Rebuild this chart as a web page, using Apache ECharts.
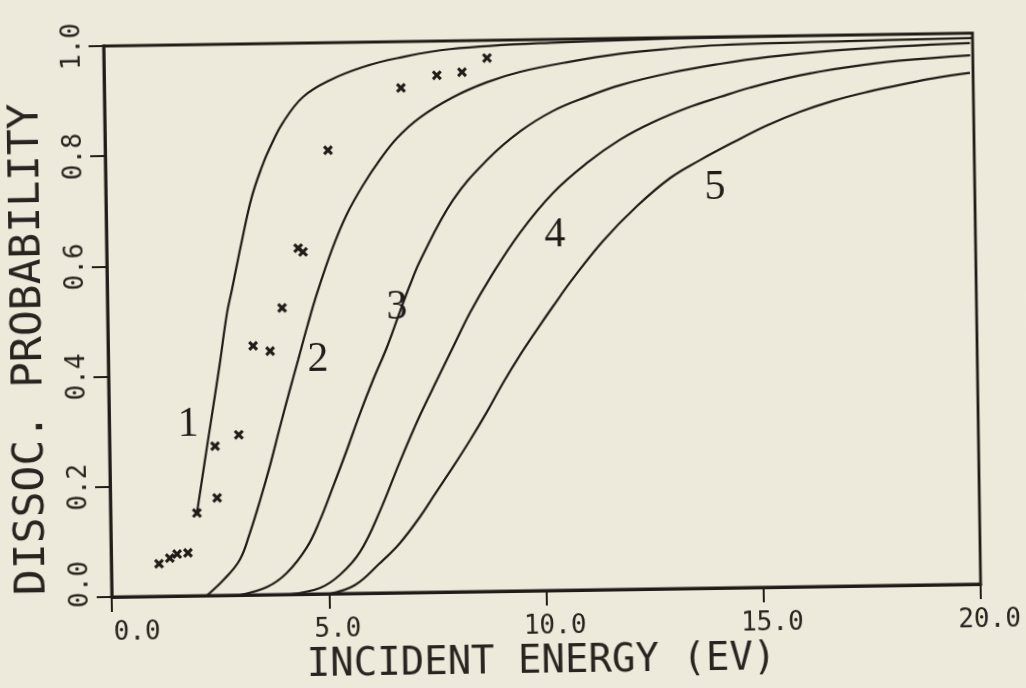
<!DOCTYPE html>
<html>
<head>
<meta charset="utf-8">
<script src="https://cdn.jsdelivr.net/npm/echarts@6/dist/echarts.min.js"></script>
<style>
  html, body { margin: 0; padding: 0; background: #eeeadb; overflow: hidden; width: 1026px; height: 688px; }
  #chart { position: absolute; left: 0; top: 0; width: 1026px; height: 688px; transform: rotate(-0.85deg); }
</style>
</head>
<body>
<div id="chart"></div>
<script>
// ---- data ----
const xTickLabels = ['0.0', '5.0', '10.0', '15.0', '20.0'];
const yTickLabels = ['0.0', '0.2', '0.4', '0.6', '0.8', '1.0'];

const curve1 = [[1.99,0.150],[2.27,0.282],[2.40,0.342],[2.57,0.422],[2.75,0.512],[2.87,0.554],[3.12,0.644],[3.36,0.722],[3.60,0.776],[3.80,0.812],[4.10,0.856],[4.57,0.902],[5.20,0.932],[5.97,0.955],[6.75,0.970],[7.97,0.985],[10.3,0.994],[14.0,0.999],[20.0,1.0]];
const curve2 = [[2.19,0],[2.58,0.028],[2.96,0.064],[3.20,0.112],[3.45,0.172],[3.68,0.232],[3.93,0.304],[4.17,0.371],[4.37,0.425],[4.59,0.485],[4.83,0.546],[5.21,0.629],[5.54,0.688],[5.92,0.740],[6.32,0.786],[6.72,0.825],[7.26,0.862],[8.03,0.898],[8.81,0.924],[9.58,0.942],[10.73,0.959],[11.88,0.972],[13.04,0.980],[14.19,0.985],[17.18,0.989],[20.0,0.991]];
const curve3 = [[2.95,0],[3.58,0.014],[4.04,0.039],[4.51,0.085],[4.82,0.134],[5.13,0.194],[5.46,0.260],[5.78,0.327],[6.09,0.387],[6.42,0.446],[6.73,0.510],[6.97,0.558],[7.22,0.603],[7.99,0.711],[8.79,0.783],[9.56,0.834],[10.32,0.870],[11.11,0.895],[11.87,0.915],[13.03,0.936],[14.18,0.951],[15.27,0.962],[16.79,0.972],[18.32,0.978],[19.94,0.982]];
const curve4 = [[4.10,0],[4.80,0.011],[5.26,0.034],[5.73,0.075],[6.21,0.150],[6.68,0.238],[7.16,0.322],[7.56,0.385],[7.94,0.444],[8.34,0.506],[8.81,0.568],[9.52,0.650],[10.29,0.721],[11.09,0.775],[11.85,0.816],[12.62,0.847],[13.41,0.872],[14.17,0.891],[14.86,0.907],[16.02,0.928],[17.17,0.942],[18.32,0.952],[19.94,0.960]];
const curve5 = [[5.02,0],[5.60,0.015],[6.18,0.054],[6.65,0.090],[7.12,0.137],[7.49,0.180],[7.90,0.227],[8.30,0.275],[8.70,0.326],[9.08,0.378],[9.48,0.428],[9.88,0.474],[10.25,0.515],[10.72,0.565],[11.43,0.633],[12.22,0.695],[12.99,0.745],[13.69,0.777],[14.45,0.808],[15.24,0.838],[16.01,0.862],[16.77,0.881],[17.55,0.896],[18.32,0.908],[19.08,0.919],[19.93,0.928]];

const expX = [1.10,1.35,1.52,1.77,1.99,2.43,2.46,2.98,3.34,3.73,4.02,4.41,4.52,5.13,6.83,7.66,8.24,8.82];
const expY = [0.059,0.069,0.076,0.078,0.150,0.271,0.177,0.291,0.452,0.442,0.520,0.628,0.621,0.805,0.916,0.938,0.943,0.968];

const labelX = [1.82, 4.83, 6.66, 10.32, 14.02];
const labelY = [0.310, 0.424, 0.518, 0.645, 0.726];
const labelText = ['1', '2', '3', '4', '5'];

// ---- chart ----
const ink = '#221c18';
const textInk = '#2a2420';
const mono = '"DejaVu Sans Mono", "Liberation Mono", monospace';
const chart = echarts.init(document.getElementById('chart'), null, { renderer: 'canvas' });

const curves = [curve1, curve2, curve3, curve4, curve5];
const lineSeries = curves.map((c, i) => ({
  type: 'line',
  name: 'curve ' + (i + 1),
  data: c,
  showSymbol: false,
  smooth: 0.4,
  clip: true,
  lineStyle: { color: ink, width: 2.2, opacity: 1 },
  z: 3
}));

const option = {
  backgroundColor: '#eeeadb',
  animation: false,
  grid: { left: 108, right: 49, top: 40, bottom: 97, show: true, borderColor: ink, borderWidth: 2.8, backgroundColor: 'transparent' },
  xAxis: {
    type: 'value', min: 0, max: 20, interval: 5,
    axisLine: { show: true, onZero: false, lineStyle: { color: ink, width: 2.8 } },
    axisTick: { show: true, inside: false, length: 15, lineStyle: { color: ink, width: 2 } },
    splitLine: { show: false },
    axisLabel: {
      margin: 23, color: textInk, fontFamily: mono, fontSize: 26,
      formatter: v => {
        const t = xTickLabels[Math.round(v / 5)];
        return v === 0 ? '{z|' + t + '}' : '{n|' + t + '}';
      },
      rich: {
        z: { fontFamily: mono, fontSize: 26, color: textInk, padding: [0, 0, 0, 50] },
        n: { fontFamily: mono, fontSize: 26, color: textInk, padding: [0, 0, 0, 17] }
      }
    }
  },
  yAxis: {
    type: 'value', min: 0, max: 1, interval: 0.2,
    axisLine: { show: true, onZero: false, lineStyle: { color: ink, width: 2.8 } },
    axisTick: { show: true, inside: false, length: 15, lineStyle: { color: ink, width: 2 } },
    splitLine: { show: false },
    axisLabel: {
      rotate: 90, margin: 18, color: textInk, fontFamily: mono, fontSize: 26,
      formatter: v => {
        const t = yTickLabels[Math.round(v / 0.2)];
        return v === 0 ? '{z|' + t + '}' : '{n|' + t + '}';
      },
      rich: {
        z: { fontFamily: mono, fontSize: 26, color: textInk, padding: [0, 0, 0, 26] },
        n: { fontFamily: mono, fontSize: 26, color: textInk }
      }
    }
  },
  graphic: [
    { type: 'text', left: 302, top: 643, z: 10,
      style: { text: 'INCIDENT ENERGY (EV)', fill: textInk, font: '39px ' + mono } },
    { type: 'text', x: 30, y: 342, rotation: Math.PI / 2, z: 10,
      style: { text: 'DISSOC. PROBABILITY', fill: textInk, font: '43px ' + mono, align: 'center', verticalAlign: 'middle' } }
  ],
  series: lineSeries.concat([
    {
      type: 'scatter', name: 'experiment',
      data: expX.map((x, i) => [x, expY[i]]),
      symbol: 'path://M0,2.2 L2.2,0 L5,2.8 L7.8,0 L10,2.2 L7.2,5 L10,7.8 L7.8,10 L5,7.2 L2.2,10 L0,7.8 L2.8,5 Z',
      symbolSize: 10,
      itemStyle: { color: ink, opacity: 1 },
      z: 4
    },
    {
      type: 'scatter', name: 'curve labels',
      data: labelX.map((x, i) => ({ value: [x, labelY[i]], name: labelText[i] })),
      symbolSize: 0,
      silent: true,
      itemStyle: { opacity: 1 },
      label: { show: true, position: 'inside', formatter: p => p.name, color: ink, opacity: 1, fontFamily: '"Liberation Serif", serif', fontSize: 42 },
      z: 5
    }
  ])
};
chart.setOption(option);
</script>
</body>
</html>
